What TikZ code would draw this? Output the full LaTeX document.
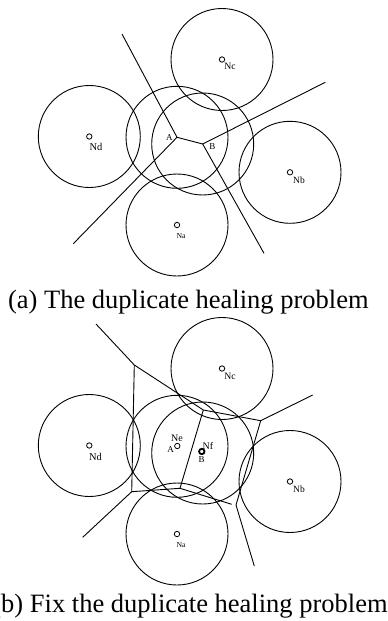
\documentclass[tikz,border=0pt]{standalone}
\usepackage{fontspec}
\setmainfont{Liberation Serif}
\usetikzlibrary{positioning}
\tikzset{
  site/.style={circle, draw, inner sep=0pt, minimum size=5.4pt, line width=0.8pt},
  hub/.style={site, line width=1.8pt},
  lbl/.style={inner sep=0pt, font=\fontsize{10}{10}\selectfont},
  tiny/.style={inner sep=0pt, font=\fontsize{7.7}{8}\selectfont},
  caption/.style={inner sep=0pt, anchor=base, font=\fontsize{26.5}{30}\selectfont},
  reach/.style={line width=0.9pt},
}

\begin{document}
\begin{tikzpicture}[x=1pt, y=-1pt, line width=0.9pt]
  \useasboundingbox (0,0) rectangle (388,621);

  % (a) two sites A and B
  \coordinate (A) at (177,137.3);
  \coordinate (B) at (202.7,144);
  \node[site] (nc) at (222,59.5) {};
  \node[site] (nd) at (89.3,136.5) {};
  \node[site] (nb) at (290,172.3) {};
  \node[site] (na) at (177,225) {};
  \foreach \c in {nc,nd,nb,na}
    \draw[reach] (\c.center) circle[radius=51pt];
  \draw[reach] (A) circle[radius=51pt];
  \draw[reach] (B) circle[radius=51pt];

  \node[lbl, font=\fontsize{9.7}{10}\selectfont] (lnc) at (230,66.7) {Nc};
  \node[lbl, font=\fontsize{10.4}{10}\selectfont] (lnd) at (96,147) {Nd};
  \node[lbl, font=\fontsize{9.5}{10}\selectfont] (lnb) at (299,180) {Nb};
  \node[tiny] (lna) at (181,235.7) {Na};
  \node[lbl, font=\fontsize{9}{9}\selectfont] (la) at (169.3,137.3) {A};
  \node[lbl, font=\fontsize{9}{9}\selectfont] (lb) at (212.3,146.7) {B};

  \coordinate (a1) at (122,34);
  \coordinate (a2) at (73.3,243.7);
  \coordinate (b1) at (325.3,82.3);
  \coordinate (b2) at (264,253.3);
  \draw (a1) -- (A) -- (B) -- (b1);
  \draw (A) -- (a2);
  \draw (B) -- (b2);

  \node[caption] (capa) at (188.3,308.3) {(a) The duplicate healing problem};

  % (b) Ne and Nf split the cell
  \node[site] (nc2) at (222,368.5) {};
  \node[site] (nd2) at (89.3,445.5) {};
  \node[site] (ne2) at (177.3,446) {};
  \node[hub] (nf2) at (201.8,451.5) {};
  \node[site] (nb2) at (290,481.5) {};
  \node[site] (na2) at (177,534) {};
  \foreach \c in {nc2,nd2,nb2,na2}
    \draw[reach] (\c.center) circle[radius=51pt];
  \draw[reach] (177,446.3) circle[radius=51pt];
  \draw[reach] (202.7,453) circle[radius=51pt];

  \node[lbl, font=\fontsize{9.7}{10}\selectfont] (lnc2) at (230,376) {Nc};
  \node[lbl, font=\fontsize{10.4}{10}\selectfont] (lnd2) at (95.5,456.5) {Nd};
  \node[lbl, font=\fontsize{9.5}{10}\selectfont] (lnb2) at (299,489.5) {Nb};
  \node[tiny] (lna2) at (181,545) {Na};
  \node[lbl] (lne2) at (177,438) {Ne};
  \node[lbl, font=\fontsize{9}{9}\selectfont] (la2) at (170.5,449.5) {A};
  \node[lbl] (lnf2) at (208,446) {Nf};
  \node[lbl, font=\fontsize{9}{9}\selectfont] (lb2) at (201.7,459.5) {B};

  \coordinate (p1) at (96,324);
  \coordinate (p2) at (134.3,365);
  \coordinate (p3) at (203.3,410);
  \coordinate (p4) at (260.7,420.7);
  \coordinate (p5) at (312.7,395);
  \coordinate (p6) at (131.7,491.7);
  \coordinate (p7) at (236,505);
  \coordinate (p8) at (254.3,566);
  \coordinate (p9) at (180,488.3);
  \coordinate (p10) at (231.7,504.3);
  \coordinate (p11) at (82.7,537.3);
  \draw (p1) -- (p2) -- (p3) -- (p4) -- (p5);
  \draw (p2) -- (p6) -- (p11);
  \draw (p4) -- (p7) -- (p8);
  \draw (p3) -- (p9) -- (p10);
  \draw (p9) -- (p6);

  \node[caption] (capb) at (190,612.7) {(b) Fix the duplicate healing problem};
\end{tikzpicture}
\end{document}
